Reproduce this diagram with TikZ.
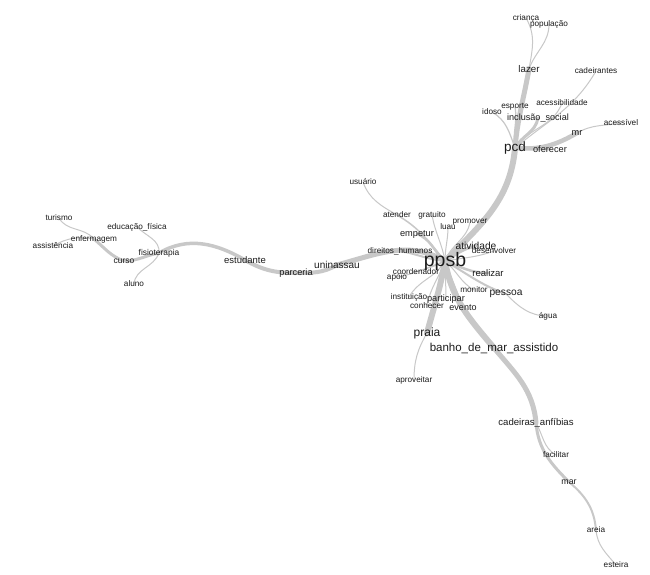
\documentclass[tikz,border=0pt]{standalone}
\usepackage{fontspec}
\setmainfont{Liberation Sans}
\usetikzlibrary{backgrounds}
\definecolor{edgegray}{HTML}{C8C8C8}
\definecolor{txt}{HTML}{1C1C1C}
\tikzset{
  wd/.style={inner sep=0pt, text=txt, font=\fontsize{#1}{#1}\selectfont},
  t8/.style={wd=8.2},
  t9/.style={wd=9.2},
  lnk/.style={draw=edgegray, line width=#1, line cap=round},
}
\begin{document}
\begin{tikzpicture}[x=1pt,y=1pt]
\useasboundingbox (0,0) rectangle (650,575);
% nodes
\node[wd=19.5] (ppsb) at (445,314) {ppsb};
\node[wd=13.5] (pcd) at (515,427) {pcd};
\node[wd=9.7] (lazer) at (529,506) {lazer};
\node[t8] (crianca) at (526,557) {criança};
\node[t8] (populacao) at (549,551) {população};
\node[t8] (cadeirantes) at (596,504) {cadeirantes};
\node[t8] (acessibilidade) at (562,472) {acessibilidade};
\node[t8] (esporte) at (515,468) {esporte};
\node[t8] (idoso) at (492,463) {idoso};
\node[wd=9.1] (inclusao) at (538,457) {inclusão\_social};
\node[t9] (mrA) at (577,442) {mr};
\node[t8] (acessivel) at (621,452) {acessível};
\node[t9] (oferecer) at (550,426) {oferecer};
\node[t8] (usuario) at (363,393) {usuário};
\node[t8] (atender) at (397,360) {atender};
\node[t8] (gratuito) at (432,360) {gratuito};
\node[t8] (luau) at (448,348) {luau};
\node[t8] (promover) at (470,353) {promover};
\node[t9] (empetur) at (417,341) {empetur};
\node[wd=10.2] (atividade) at (476,329) {atividade};
\node[t8] (desenvolver) at (494,324) {desenvolver};
\node[t8] (direitos) at (400,324) {direitos\_humanos};
\node[wd=10] (uninassau) at (337,310) {uninassau};
\node[t9] (parceria) at (296,302) {parceria};
\node[wd=9.5] (estudante) at (245,315) {estudante};
\node[wd=8.4] (fisio) at (159,322) {fisioterapia};
\node[wd=8.5] (curso) at (124,314) {curso};
\node[t8] (enferm) at (94,336) {enfermagem};
\node[t8] (educ) at (137,348) {educação\_física};
\node[t8] (turismo) at (59,357) {turismo};
\node[t8] (assist) at (53,329) {assistência};
\node[t8] (aluno) at (134,291) {aluno};
\node[t8] (coord) at (416,303) {coordenador};
\node[t8] (apoio) at (397,298) {apoio};
\node[wd=9.5] (realizar) at (488,302) {realizar};
\node[t8] (monitor) at (474,285) {monitor};
\node[wd=10.2] (pessoa) at (506,281) {pessoa};
\node[t8] (instit) at (409,278) {instituição};
\node[t9] (participar) at (446,276) {participar};
\node[t8] (conhecer) at (427,269) {conhecer};
\node[wd=9] (evento) at (463,267) {evento};
\node[t8] (agua) at (548,259) {água};
\node[wd=12] (praia) at (427,242) {praia};
\node[wd=11.5] (banho) at (494,227) {banho\_de\_mar\_assistido};
\node[t8] (aproveitar) at (414,195) {aproveitar};
\node[wd=9.6] (cadeiras) at (536,152) {cadeiras\_anfíbias};
\node[t8] (facilitar) at (556,120) {facilitar};
\node[wd=8.8] (marB) at (569,93) {mar};
\node[t8] (areia) at (596,45) {areia};
\node[t8] (esteira) at (616,10) {esteira};
% edges
\begin{pgfonlayer}{background}
\fill[white] (0,0) rectangle (650,575);
\draw[lnk=6pt] (ppsb.center) to[out=45,in=-95] (pcd.center);
\draw[lnk=5pt] (pcd.center) to[out=85,in=-100] (lazer.center);
\draw[lnk=1pt] (lazer.center) to[out=80,in=-60] (crianca.center);
\draw[lnk=1pt] (lazer.center) to[out=70,in=-90] (populacao.center);
\draw[lnk=3pt] (pcd.center) to[out=60,in=-100] (inclusao.center);
\draw[lnk=1.2pt] (pcd.center) to[out=100,in=-80] (esporte.center);
\draw[lnk=1.2pt] (pcd.center) to[out=110,in=-30] (idoso.center);
\draw[lnk=1pt] (pcd.center) to[out=55,in=-110] (acessibilidade.center);
\draw[lnk=1pt] (pcd.center) to[out=40,in=-120] (cadeirantes.center);
\draw[lnk=3pt] (pcd.center) to[out=0,in=180] (oferecer.center);
\draw[lnk=4.5pt] (pcd.center) to[out=-5,in=-150] (mrA.center);
\draw[lnk=1pt] (mrA.center) to[out=30,in=190] (acessivel.center);
\draw[lnk=5pt] (ppsb.center) to[out=150,in=15] (uninassau.center);
\draw[lnk=4pt] (uninassau.center) to[out=-150,in=0] (parceria.center);
\draw[lnk=4pt] (parceria.center) to[out=180,in=-30] (estudante.center);
\draw[lnk=3.5pt] (estudante.center) to[out=150,in=30] (fisio.center);
\draw[lnk=3pt] (fisio.center) to[out=190,in=0] (curso.center);
\draw[lnk=3pt] (curso.center) to[out=160,in=-40] (enferm.center);
\draw[lnk=1pt] (enferm.center) to[out=130,in=-60] (turismo.center);
\draw[lnk=1pt] (enferm.center) to[out=170,in=30] (assist.center);
\draw[lnk=1pt] (fisio.center) to[out=85,in=-45] (educ.center);
\draw[lnk=1pt] (fisio.center) to[out=-110,in=85] (aluno.center);
\draw[lnk=1.5pt] (ppsb.center) to[out=130,in=-30] (atender.center);
\draw[lnk=1pt] (atender.center) to[out=150,in=-70] (usuario.center);
\draw[lnk=1pt] (ppsb.center) to[out=100,in=-80] (gratuito.center);
\draw[lnk=1pt] (ppsb.center) to[out=90,in=-90] (luau.center);
\draw[lnk=1pt] (ppsb.center) to[out=70,in=-100] (promover.center);
\draw[lnk=2.5pt] (ppsb.center) to[out=140,in=-20] (empetur.center);
\draw[lnk=3pt] (ppsb.center) to[out=30,in=-170] (atividade.center);
\draw[lnk=1pt] (ppsb.center) to[out=10,in=-160] (desenvolver.center);
\draw[lnk=2pt] (ppsb.center) to[out=175,in=-10] (direitos.center);
\draw[lnk=1pt] (ppsb.center) to[out=-150,in=20] (coord.center);
\draw[lnk=1pt] (ppsb.center) to[out=-160,in=10] (apoio.center);
\draw[lnk=2.5pt] (ppsb.center) to[out=-20,in=180] (realizar.center);
\draw[lnk=1pt] (ppsb.center) to[out=-40,in=150] (monitor.center);
\draw[lnk=2pt] (ppsb.center) to[out=-30,in=160] (pessoa.center);
\draw[lnk=1pt] (pessoa.center) to[out=-45,in=180] (agua.center);
\draw[lnk=1pt] (ppsb.center) to[out=-120,in=60] (instit.center);
\draw[lnk=1pt] (ppsb.center) to[out=-110,in=80] (conhecer.center);
\draw[lnk=1pt] (ppsb.center) to[out=-90,in=90] (participar.center);
\draw[lnk=1.5pt] (ppsb.center) to[out=-70,in=110] (evento.center);
\draw[lnk=6pt] (ppsb.center) to[out=-100,in=75] (praia.center);
\draw[lnk=1pt] (praia.center) to[out=-120,in=90] (aproveitar.center);
\draw[lnk=6pt] (ppsb.center) to[out=-80,in=130] (banho.center);
\draw[lnk=5pt] (banho.center) to[out=-50,in=95] (cadeiras.center);
\draw[lnk=1pt] (cadeiras.center) to[out=-60,in=150] (facilitar.center);
\draw[lnk=3pt] (cadeiras.center) to[out=-85,in=135] (marB.center);
\draw[lnk=2pt] (marB.center) to[out=-40,in=95] (areia.center);
\draw[lnk=1pt] (areia.center) to[out=-85,in=130] (esteira.center);
\end{pgfonlayer}
\end{tikzpicture}
\end{document}
